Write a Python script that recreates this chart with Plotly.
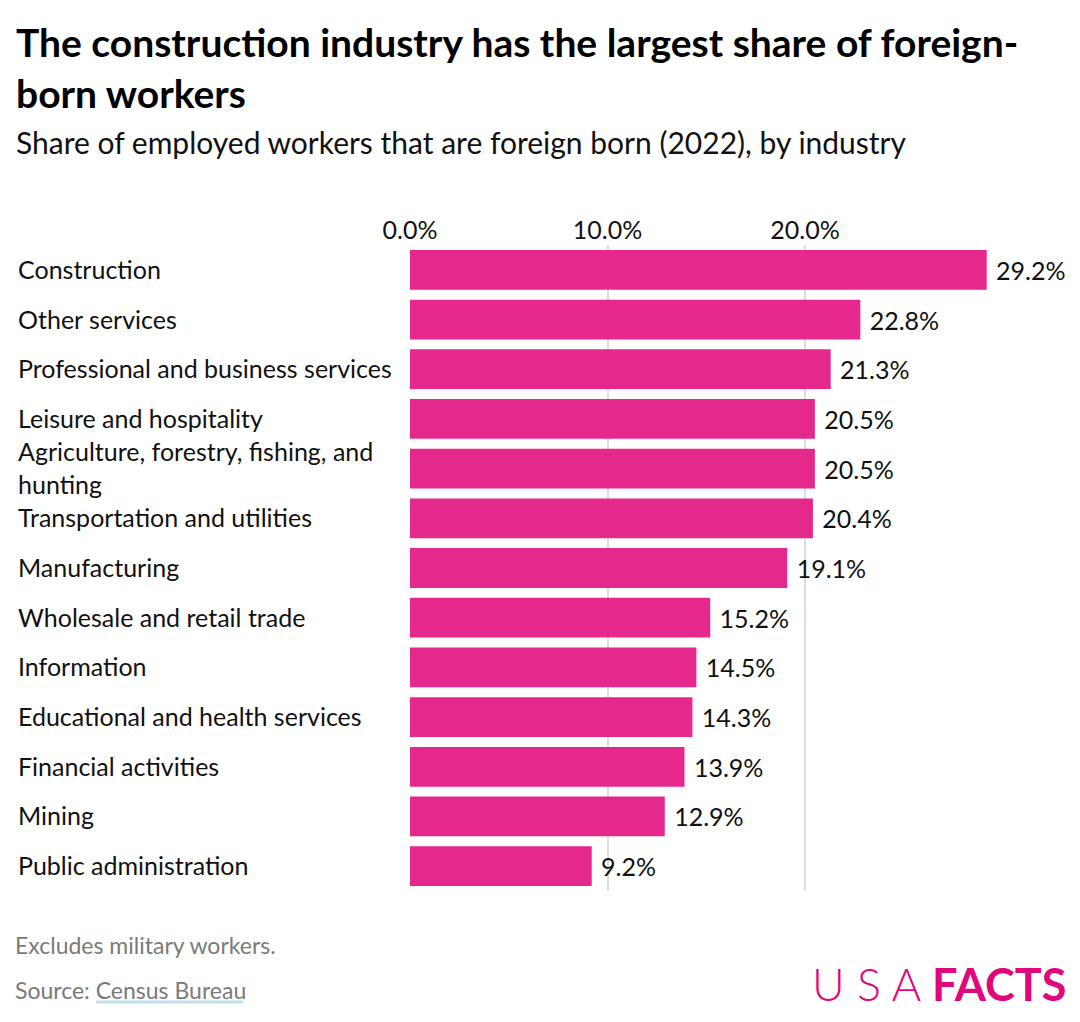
import plotly.graph_objects as go

industries = [
    "Construction",
    "Other services",
    "Professional and business services",
    "Leisure and hospitality",
    "Agriculture, forestry, fishing, and<br>hunting",
    "Transportation and utilities",
    "Manufacturing",
    "Wholesale and retail trade",
    "Information",
    "Educational and health services",
    "Financial activities",
    "Mining",
    "Public administration",
]
shares = [29.2, 22.8, 21.3, 20.5, 20.5, 20.4, 19.1, 15.2, 14.5, 14.3, 13.9, 12.9, 9.2]
tick_values = [0, 10, 20]
tick_labels = ["0.0%", "10.0%", "20.0%"]

FONT = "Source Sans Pro, Lato, sans-serif"
PINK = "#E5288B"

W, H = 1080, 1022
X0, X1, Y_TOP, Y_BOT = 410, 1066, 245, 891
px_per_unit = 19.75
x_max = (X1 - X0) / px_per_unit

fig = go.Figure()
fig.add_trace(go.Bar(
    x=shares,
    y=industries,
    orientation="h",
    marker=dict(color=PINK, line=dict(width=0)),
    width=0.8,
    text=[f"\u00a0{v:.1f}%" for v in shares],
    textposition="outside",
    textfont=dict(family=FONT, size=25, color="#111111"),
    cliponaxis=False,
    hoverinfo="skip",
))

annotations = []
for name in industries:
    annotations.append(dict(
        x=16 / W, xref="paper", xanchor="left",
        y=name, yref="y", yanchor="middle", yshift=1,
        text=name, showarrow=False, align="left",
        font=dict(family=FONT, size=25, color="#111111"),
    ))

annotations += [
    dict(x=14 / W, xref="paper", xanchor="left", y=1 - 67 / H, yref="paper", yanchor="middle",
         text="<b>The construction industry has the largest share of foreign-<br>born workers</b>",
         showarrow=False, align="left",
         font=dict(family=FONT, size=39, color="#000000")),
    dict(x=14 / W, xref="paper", xanchor="left", y=1 - 142 / H, yref="paper", yanchor="middle",
         text="Share of employed workers that are foreign born (2022), by industry",
         showarrow=False, align="left",
         font=dict(family=FONT, size=30, color="#111111")),
    dict(x=13 / W, xref="paper", xanchor="left", y=1 - 945 / H, yref="paper", yanchor="middle",
         text="Excludes military workers.", showarrow=False, align="left",
         font=dict(family=FONT, size=23, color="#7a7a7a")),
    dict(x=13 / W, xref="paper", xanchor="left", y=1 - 990 / H, yref="paper", yanchor="middle",
         text="Source: Census Bureau", showarrow=False, align="left",
         font=dict(family=FONT, size=23, color="#7a7a7a")),
    dict(x=1068 / W, xref="paper", xanchor="right", y=1 - 984 / H, yref="paper", yanchor="middle",
         text="<span style='font-weight:300'>U S A </span><b>FACTS</b>", showarrow=False,
         font=dict(family="Lato, sans-serif", size=45, color="#E0077D")),
]

fig.update_layout(
    width=W, height=H,
    margin=dict(l=0, r=0, t=0, b=0, autoexpand=False),
    paper_bgcolor="white", plot_bgcolor="white",
    showlegend=False,
    font=dict(family=FONT, color="#111111"),
    annotations=annotations,
    shapes=[dict(type="line", xref="paper", yref="paper",
                 x0=96 / W, x1=243 / W, y0=1 - 1002 / H, y1=1 - 1002 / H,
                 line=dict(color="#BFE0EE", width=3))],
)
fig.update_xaxes(
    domain=[X0 / W, X1 / W], automargin=False,
    side="top", range=[0, x_max],
    tickvals=tick_values, ticktext=tick_labels,
    tickfont=dict(family=FONT, size=25, color="#111111"),
    showgrid=True, gridcolor="#DDDDDD", gridwidth=2,
    zeroline=False, showline=False, ticks="",
    fixedrange=True,
)
fig.update_yaxes(
    domain=[1 - Y_BOT / H, 1 - Y_TOP / H], automargin=False,
    autorange="reversed", showticklabels=False, showgrid=False,
    zeroline=False, showline=False, ticks="", fixedrange=True,
)

fig.write_html("out.html")
